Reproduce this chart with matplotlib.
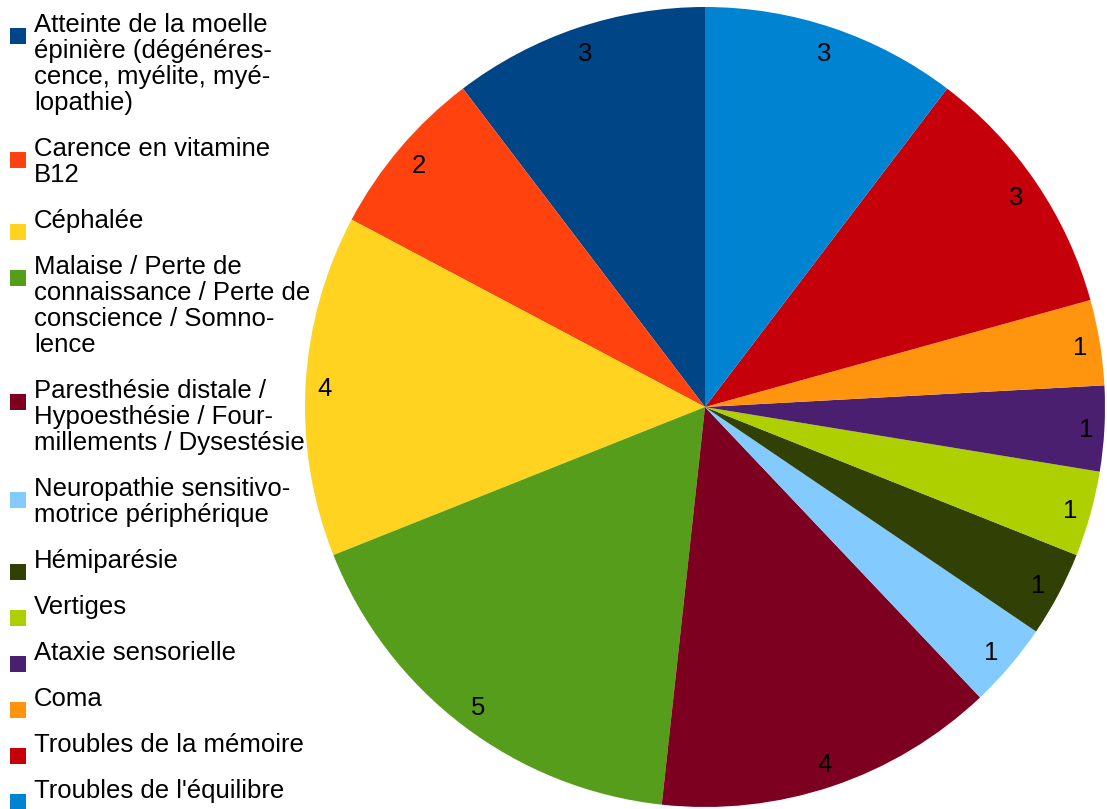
import matplotlib
matplotlib.use("Agg")
import numpy as np
import matplotlib.pyplot as plt
from matplotlib.patches import Rectangle

categories = [
    "Atteinte de la moelle\népinière (dégénéres-\ncence, myélite, myé-\nlopathie)",
    "Carence en vitamine\nB12",
    "Céphalée",
    "Malaise / Perte de\nconnaissance / Perte de\nconscience / Somno-\nlence",
    "Paresthésie distale /\nHypoesthésie / Four-\nmillements / Dysestésie",
    "Neuropathie sensitivo-\nmotrice périphérique",
    "Hémiparésie",
    "Vertiges",
    "Ataxie sensorielle",
    "Coma",
    "Troubles de la mémoire",
    "Troubles de l'équilibre",
]
values = [3, 2, 4, 5, 4, 1, 1, 1, 1, 1, 3, 3]
colors = ["#004586", "#ff420e", "#ffd320", "#579d1c", "#7e0021", "#83caff",
          "#314004", "#aecf00", "#4b1f6f", "#ff950e", "#c5000b", "#0084d1"]

W, H = 1107, 809
FONT = "Liberation Sans"
FS = 18.5

fig = plt.figure(figsize=(W / 100, H / 100), dpi=100)
fig.patch.set_facecolor("white")

# pie axes: center (705, 407), radius 400 px
cx, cy, R = 705, 407, 400
ax = fig.add_axes([(cx - R) / W, (H - cy - R) / H, 2 * R / W, 2 * R / H])
wedges, _ = ax.pie(values, colors=colors, startangle=90, counterclock=True,
                   wedgeprops=dict(linewidth=0))
ax.set_xlim(-1, 1)
ax.set_ylim(-1, 1)
ax.set_aspect("equal")
ax.axis("off")

# value labels placed inside the rim, box-aware like LibreOffice
pad, hw, hh = 12, 6, 12
for w, v in zip(wedges, values):
    ang = np.deg2rad((w.theta1 + w.theta2) / 2)
    c, s = np.cos(ang), np.sin(ang)
    r = (R - pad - (abs(c) * hw + abs(s) * hh)) / R
    ax.text(r * c, r * s, str(v), ha="center", va="center_baseline",
            fontsize=FS, family=FONT, color="black")

# legend drawn manually
line_step = 26
entry_gap = 46
baseline = 32
for lab, col in zip(categories, colors):
    lines = lab.split("\n")
    my = baseline + 4
    fig.patches.append(Rectangle((10 / W, (H - my - 8) / H), 16 / W, 16 / H,
                                 transform=fig.transFigure, facecolor=col,
                                 edgecolor="none", figure=fig))
    for j, ln in enumerate(lines):
        y = baseline + j * line_step
        fig.text(34 / W, (H - y) / H, ln, ha="left", va="baseline",
                 fontsize=FS, family=FONT, color="black")
    baseline += (len(lines) - 1) * line_step + entry_gap

fig.savefig("out.png", dpi=100, facecolor="white")
